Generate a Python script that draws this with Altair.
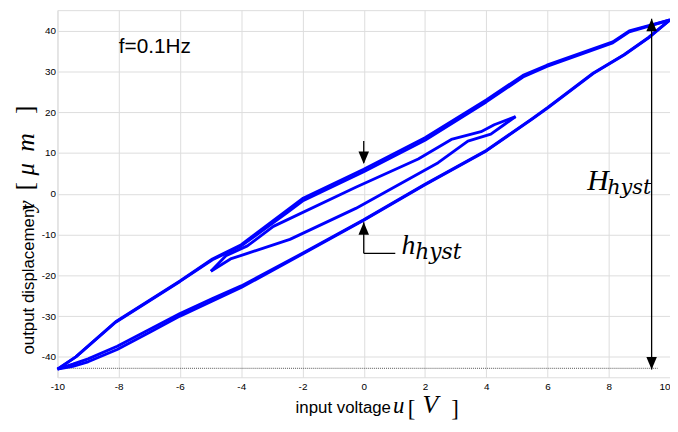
import altair as alt
import pandas as pd

# ---- data ----
x_ticks = [-10, -8, -6, -4, -2, 0, 2, 4, 6, 8, 10]
y_ticks = [-40, -30, -20, -10, 0, 10, 20, 30, 40]

# outer loop, first cycle: ascending (lower) branch
asc1_u = [-10, -9.5, -9.0, -8.05, -7.0, -6.0, -4.94, -4.0, -2.0, 0.0, 2.0, 4.0, 5.5, 6.0, 7.5, 8.5, 9.3, 10.0]
asc1_y = [-43, -42.3, -41.2, -38.2, -34.0, -30.0, -26.3, -23.0, -14.8, -6.5, 2.2, 10.5, 18.3, 21.0, 29.5, 34.0, 38.2, 42.6]
# outer loop, first cycle: descending (upper) branch
desc1_u = [10.0, 8.67, 8.13, 5.98, 5.2, 4.0, 2.0, 0.0, -2.0, -2.5, -4.0, -4.94, -6.0, -8.1, -9.4, -10.0]
desc1_y = [42.6, 39.9, 37.2, 31.5, 29.0, 23.0, 13.7, 6.0, -1.2, -4.0, -12.5, -16.0, -21.4, -31.4, -40.0, -43.0]
# outer loop, second cycle (slightly different, gives the thick parts)
asc2_y = [-43, -41.8, -40.5, -37.4, -33.3, -29.4, -25.7, -22.6, -14.6, -6.4, 2.3, 10.6, 18.4, 21.1, 29.6, 34.1, 38.3, 42.6]
desc2_y = [42.6, 39.7, 37.0, 31.2, 28.6, 22.5, 13.1, 5.4, -1.8, -4.6, -12.8, -16.2, -21.5, -31.5, -40.0, -43.0]
# inner minor loop
inA_u = [4.96, 4.26, 3.83, 2.86, 1.78, -0.26, -2.95, -3.8, -4.5, -4.99]
inA_y = [18.9, 16.9, 15.2, 13.3, 8.5, 1.6, -8.0, -12.8, -15.2, -19.0]
inB_u = [-4.99, -4.35, -2.41, -0.26, 2.43, 3.4, 4.15, 4.58, 4.96]
inB_y = [-19.0, -16.0, -11.2, -3.6, 7.6, 12.9, 14.6, 16.9, 18.9]

rows = []
def add(seg, us, ys):
    for i, (u, y) in enumerate(zip(us, ys)):
        rows.append({"u": u, "y": y, "seg": seg, "ord": i})

add("asc1", asc1_u, asc1_y)
add("desc1", desc1_u, desc1_y)
add("asc2", asc1_u, asc2_y)
add("desc2", desc1_u, desc2_y)
add("inA", inA_u, inA_y)
add("inB", inB_u, inB_y)
curve = pd.DataFrame(rows)

# annotation geometry (data units)
shaft_x = [0, 0, 0, 9.4]
shaft_y = [12.9, -7.0, -14.6, 42.9]
shaft_x2 = [0, 0, 1.03, 9.4]
shaft_y2 = [7.6, -14.6, -14.6, -43.1]
head_down_x = [0, 9.4]
head_down_y = [7.3, -43.1]
head_up_x = [0, 9.4]
head_up_y = [-7.0, 42.9]
min_line = pd.DataFrame({"u": [-10], "u2": [9.6], "y": [-42.8]})

xs = alt.Scale(domain=[-10, 10], nice=False)
ys = alt.Scale(domain=[-45, 45], nice=False)

base_x = alt.X("u:Q", scale=xs,
               axis=alt.Axis(values=x_ticks, title=None, grid=True, ticks=False,
                             domain=False, labelPadding=4,
                             labelExpr="'' + datum.value",
                             labelAlign={"condition": {"test": "datum.value == 10",
                                                       "value": "right"},
                                         "value": "center"}))
base_y = alt.Y("y:Q", scale=ys,
               axis=alt.Axis(values=y_ticks, title=None, grid=True, ticks=False,
                             domain=False, labelPadding=2,
                             labelExpr="'' + datum.value"))

lines = alt.Chart(curve).mark_line(color="#0000ff", strokeWidth=2.9,
                                   strokeJoin="round", strokeCap="butt").encode(
    x=base_x, y=base_y, detail="seg:N", order="ord:Q")

minrule = alt.Chart(min_line).mark_rule(color="#555555", strokeDash=[1, 1],
                                        strokeWidth=1).encode(
    x=alt.X("u:Q", scale=xs), x2="u2:Q", y=alt.Y("y:Q", scale=ys))

shafts = alt.Chart(pd.DataFrame({"x": shaft_x, "y": shaft_y,
                                 "x2": shaft_x2, "y2": shaft_y2})).mark_rule(
    color="black", strokeWidth=1.3).encode(
    x=alt.X("x:Q", scale=xs), y=alt.Y("y:Q", scale=ys), x2="x2:Q", y2="y2:Q")

down_shape = "M0,0 L-0.42,-1 L0.42,-1 Z"
up_shape = "M0,0 L-0.42,1 L0.42,1 Z"
heads_down = alt.Chart(pd.DataFrame({"x": head_down_x, "y": head_down_y})).mark_point(
    shape=down_shape, filled=True, color="black", size=640, opacity=1).encode(
    x=alt.X("x:Q", scale=xs), y=alt.Y("y:Q", scale=ys))
heads_up = alt.Chart(pd.DataFrame({"x": head_up_x, "y": head_up_y})).mark_point(
    shape=up_shape, filled=True, color="black", size=640, opacity=1).encode(
    x=alt.X("x:Q", scale=xs), y=alt.Y("y:Q", scale=ys))

def dtext(txt, u, y, size, font, style="normal", align="left"):
    return alt.Chart(pd.DataFrame({"x": [u], "y": [y], "t": [txt]})).mark_text(
        font=font, fontSize=size, fontStyle=style, align=align,
        baseline="alphabetic", color="black").encode(
        x=alt.X("x:Q", scale=xs), y=alt.Y("y:Q", scale=ys), text="t:N")

def ptext(txt, px, py, size, font, style="normal", align="left",
          baseline="alphabetic", angle=0):
    return alt.Chart(pd.DataFrame({"t": [txt]})).mark_text(
        font=font, fontSize=size, fontStyle=style, align=align,
        baseline=baseline, angle=angle, color="black").encode(
        x=alt.value(px), y=alt.value(py), text="t:N")

SANS = "Liberation Sans"
SERIF = "Liberation Serif"
SUB = "DejaVu Serif"

texts = [
    dtext("f=0.1Hz", -8.0, 34.5, 21, SANS),
    dtext("h", 1.23, -14.8, 28, SERIF, "italic"),
    dtext("hyst", 1.68, -15.9, 22, SUB, "italic"),
    dtext("H", 7.3, 0.84, 30, SERIF, "italic"),
    dtext("hyst", 7.95, -0.1, 21, SUB, "italic"),
    # x-axis title
    ptext("input voltage", 337, 407, 17, SANS, align="right"),
    ptext("u", 339, 407, 23, SERIF, "italic"),
    ptext("[", 354, 403, 23, SERIF, baseline="middle"),
    ptext("V", 369, 407, 26, SERIF, "italic"),
    ptext("]", 398, 403, 23, SERIF, baseline="middle"),
    # y-axis title (rotated)
    ptext("output displacement", -24, 348, 17, SANS, angle=270),
    ptext("y", -24, 203, 24, SERIF, "italic", angle=270),
    ptext("[", -33, 182, 25, SERIF, baseline="middle", angle=270),
    ptext("\u03bc", -24, 167, 25, SERIF, "italic", angle=270),
    ptext("m", -24, 143, 26, SERIF, "italic", angle=270),
    ptext("]", -33, 105, 25, SERIF, baseline="middle", angle=270),
]

chart = alt.layer(minrule, lines, shafts, heads_down, heads_up, *texts).properties(
    width=619, height=371,
    autosize=alt.AutoSizeParams(type="none"),
    padding={"left": 50, "top": 0, "right": 0, "bottom": 41},
).configure_axis(
    gridColor="#888888", gridDash=[1, 2], gridWidth=1, gridOpacity=1,
    labelFont=SANS, labelFontSize=14, labelColor="black",
).configure_view(
    stroke="#8a8a8a", strokeWidth=1,
).configure(background="white")

chart.save("out.html", embed_options={"renderer": "svg", "actions": False})
